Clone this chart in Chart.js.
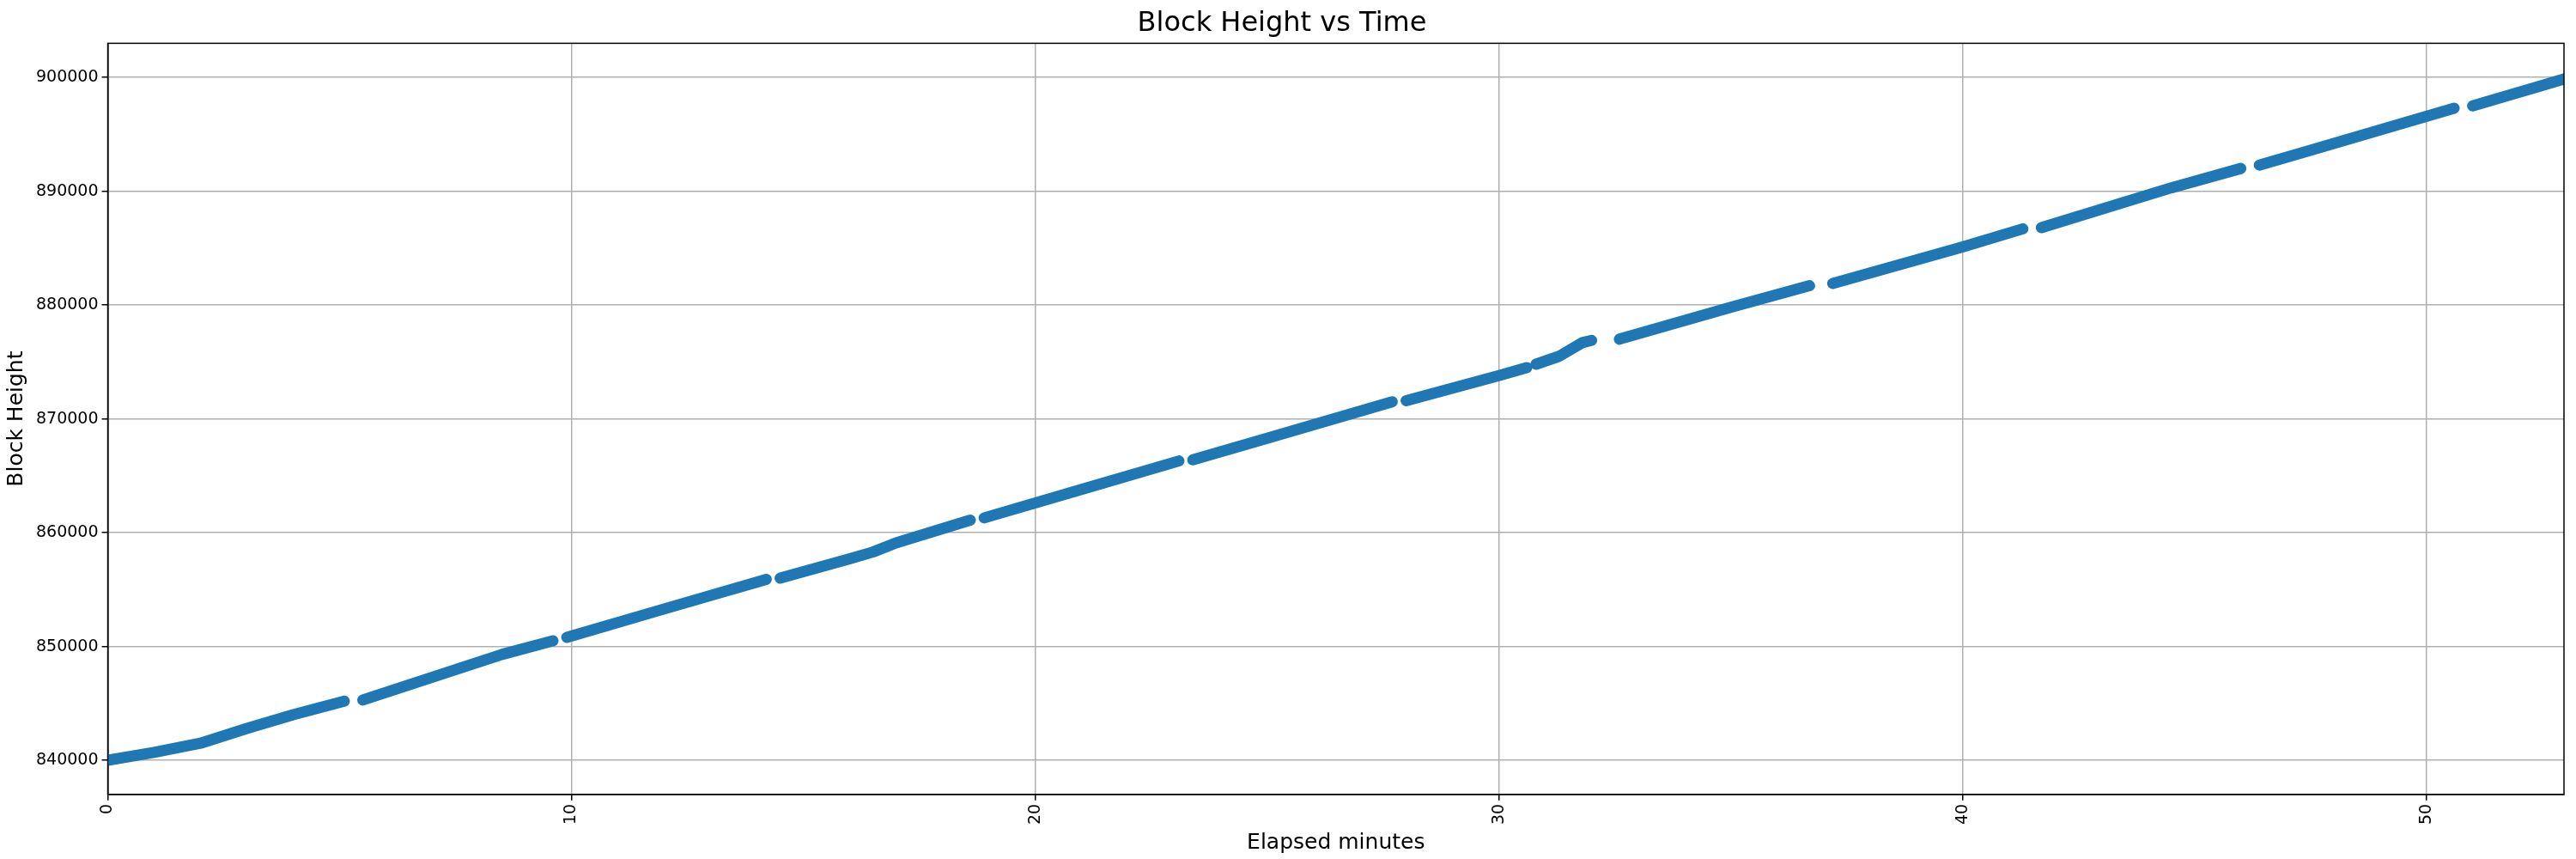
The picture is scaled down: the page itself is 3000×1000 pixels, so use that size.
<!DOCTYPE html>
<html>
<head>
<script src="https://cdn.jsdelivr.net/npm/chart.js@4"></script>
<style>
  body { margin: 0; background: #fff; overflow: hidden; }
</style>
</head>
<body>
<canvas id="chart" width="3000" height="1000" style="display:block;width:3000px;height:1000px"></canvas>
<script>
// Segments of the block height curve (elapsed minutes, block height); null = gap
const minutes = [0, 1, 2, 3, 4, 5.1, null, 5.5, 7, 8.5, 9.6, null, 9.9, 12, 14.2, null,
  14.5, 16, 16.5, 17, 18.6, null, 18.9, 21, 23.1, null, 23.4, 25, 27.7, null,
  28, 30, 30.6, null, 30.8, 31.3, 31.8, 32.0, null, 32.6, 35, 36.7, null,
  37.2, 40, 41.3, null, 41.7, 44.5, 46.0, null, 46.4, 47.5, 50.6, null,
  51.0, 52.5, 53];
const heights = [840000, 840700, 841500, 842800, 844000, 845200, null, 845300, 847300, 849300, 850500, null,
  850800, 853300, 855900, null, 856000, 857700, 858300, 859100, 861100, null,
  861300, 863800, 866300, null, 866400, 868300, 871500, null, 871600, 873800, 874500, null,
  874800, 875500, 876700, 876900, null, 877000, 879800, 881700, null, 881900, 885100, 886700, null,
  886800, 890300, 892000, null, 892300, 893600, 897300, null, 897500, 899300, 899900];
const xTicks = [0, 10, 20, 30, 40, 50];
const yTicks = [840000, 850000, 860000, 870000, 880000, 890000, 900000];

const points = minutes.map((m, i) => m === null ? { x: null, y: null } : { x: m, y: heights[i] });

new Chart(document.getElementById('chart'), {
  type: 'scatter',
  data: {
    datasets: [{
      data: points,
      showLine: true,
      spanGaps: false,
      borderColor: '#1f77b4',
      borderWidth: 13,
      borderCapStyle: 'round',
      borderJoinStyle: 'round',
      pointRadius: 0,
      tension: 0
    }]
  },
  options: {
    responsive: false,
    devicePixelRatio: 1,
    animation: false,
    layout: { padding: { left: 0, right: 14, top: 0, bottom: 0 } },
    plugins: {
      legend: { display: false },
      tooltip: { enabled: false },
      title: {
        display: true, text: 'Block Height vs Time', color: '#000',
        font: { family: 'DejaVu Sans', size: 32, weight: 'normal' },
        padding: { top: 8, bottom: 4 }
      }
    },
    scales: {
      x: {
        type: 'linear', min: 0, max: 52.97,
        afterBuildTicks: s => { s.ticks = xTicks.map(v => ({ value: v })); },
        ticks: { color: '#000', font: { family: 'DejaVu Sans', size: 19 }, minRotation: 90, maxRotation: 90, padding: 4 },
        grid: { color: '#b0b0b0', lineWidth: 1.5, tickLength: 7, tickColor: '#000' },
        border: { color: '#000', width: 1.5 },
        title: { display: true, text: 'Elapsed minutes', color: '#000', font: { family: 'DejaVu Sans', size: 25 }, padding: { top: 2, bottom: 4 } }
      },
      y: {
        min: 837000, max: 903000,
        afterBuildTicks: s => { s.ticks = yTicks.map(v => ({ value: v })); },
        ticks: { color: '#000', font: { family: 'DejaVu Sans', size: 19 }, callback: v => String(v), padding: 4 },
        grid: { color: '#b0b0b0', lineWidth: 1.5, tickLength: 7, tickColor: '#000' },
        border: { color: '#000', width: 1.5 },
        title: { display: true, text: 'Block Height', color: '#000', font: { family: 'DejaVu Sans', size: 25 }, padding: { top: 4, bottom: 4 } }
      }
    }
  },
  plugins: [{
    id: 'frame',
    afterDraw(c) {
      const a = c.chartArea, g = c.ctx;
      g.save(); g.strokeStyle = '#000'; g.lineWidth = 1.5;
      g.strokeRect(a.left, a.top, a.right - a.left, a.bottom - a.top);
      g.restore();
    }
  }]
});
</script>
</body>
</html>
